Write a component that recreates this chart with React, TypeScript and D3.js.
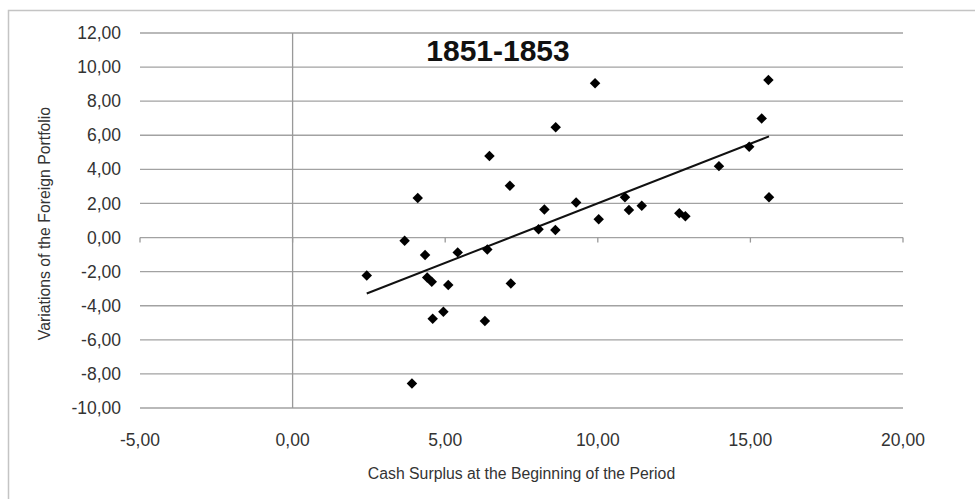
import React from "react";
import * as d3 from "d3";

const xValues = [9.91, 8.62, 6.45, 7.12, 4.10, 8.25, 9.29, 10.89, 11.02, 11.44, 10.03, 8.06, 8.61, 3.67, 5.41, 4.34, 6.38, 2.43, 4.41, 4.56, 5.10, 7.15, 4.94, 4.59, 6.30, 3.91, 15.59, 15.37, 14.96, 13.97, 15.61, 12.67, 12.87];
const yValues = [9.05, 6.47, 4.78, 3.04, 2.32, 1.65, 2.06, 2.36, 1.61, 1.87, 1.08, 0.48, 0.44, -0.19, -0.87, -1.03, -0.70, -2.22, -2.34, -2.60, -2.79, -2.69, -4.35, -4.76, -4.90, -8.56, 9.24, 6.99, 5.33, 4.19, 2.36, 1.42, 1.25];
const xTicks = [-5, 0, 5, 10, 15, 20];
const yTicks = [-10, -8, -6, -4, -2, 0, 2, 4, 6, 8, 10, 12];
const title = "1851-1853";
const xTitle = "Cash Surplus at the Beginning of the Period";
const yTitle = "Variations of the Foreign Portfolio";

const locale = d3.formatLocale({ decimal: ",", thousands: ".", grouping: [3], currency: ["", ""], minus: "-" });
const fmt = locale.format(".2f");

export default function App() {
  const left = 140, right = 903, top = 33, bottom = 408;
  const x = d3.scaleLinear().domain([-5, 20]).range([left, right]);
  const y = d3.scaleLinear().domain([-10, 12]).range([bottom, top]);

  const n = xValues.length;
  const mx = d3.mean(xValues) as number;
  const my = d3.mean(yValues) as number;
  let sxy = 0, sxx = 0;
  for (let i = 0; i < n; i++) {
    sxy += (xValues[i] - mx) * (yValues[i] - my);
    sxx += (xValues[i] - mx) ** 2;
  }
  const slope = sxy / sxx;
  const intercept = my - slope * mx;
  const x0 = d3.min(xValues) as number;
  const x1 = d3.max(xValues) as number;
  const line = d3.line<number>().x((v) => x(v)).y((v) => y(intercept + slope * v));

  const diamond = d3.symbol().type(d3.symbolDiamond2).size(70)();
  const font = "'Liberation Sans', Arial, sans-serif";

  return (
    <svg width={975} height={499} style={{ position: "absolute", left: 0, top: 0, background: "#fff" }}>
      <rect x={8.5} y={10.5} width={1000} height={600} fill="#fff" stroke="#c4c4c4" strokeWidth={1.5} />
      {yTicks.map((t) => (
        <line key={t} x1={left} x2={right} y1={y(t)} y2={y(t)} stroke="#a2a2a2" strokeWidth={1.3} />
      ))}
      <line x1={x(0)} x2={x(0)} y1={top} y2={bottom} stroke="#999" strokeWidth={1.3} />
      {xTicks.map((t) => (
        <line key={t} x1={x(t)} x2={x(t)} y1={y(0)} y2={y(0) + 5} stroke="#999" strokeWidth={1.3} />
      ))}
      {yTicks.map((t) => (
        <text key={t} x={121} y={y(t)} dy="0.35em" textAnchor="end" fontFamily={font} fontSize={17.5} fill="#333">
          {fmt(t)}
        </text>
      ))}
      {xTicks.map((t) => (
        <text key={t} x={x(t)} y={446} textAnchor="middle" fontFamily={font} fontSize={17.5} fill="#333">
          {fmt(t)}
        </text>
      ))}
      <text x={(left + right) / 2} y={479} textAnchor="middle" fontFamily={font} fontSize={15.8} fill="#333">
        {xTitle}
      </text>
      <text transform={`translate(49.5,${(top + bottom) / 2 + 3}) rotate(-90)`} textAnchor="middle" fontFamily={font} fontSize={15.8} fill="#333">
        {yTitle}
      </text>
      <text x={498} y={61} textAnchor="middle" fontFamily={font} fontSize={30} fontWeight="bold" fill="#111">
        {title}
      </text>
      <path d={line([x0, x1]) || ""} fill="none" stroke="#111" strokeWidth={2} />
      {xValues.map((v, i) => (
        <path key={i} d={diamond || ""} transform={`translate(${x(v)},${y(yValues[i])})`} fill="#000" />
      ))}
    </svg>
  );
}
